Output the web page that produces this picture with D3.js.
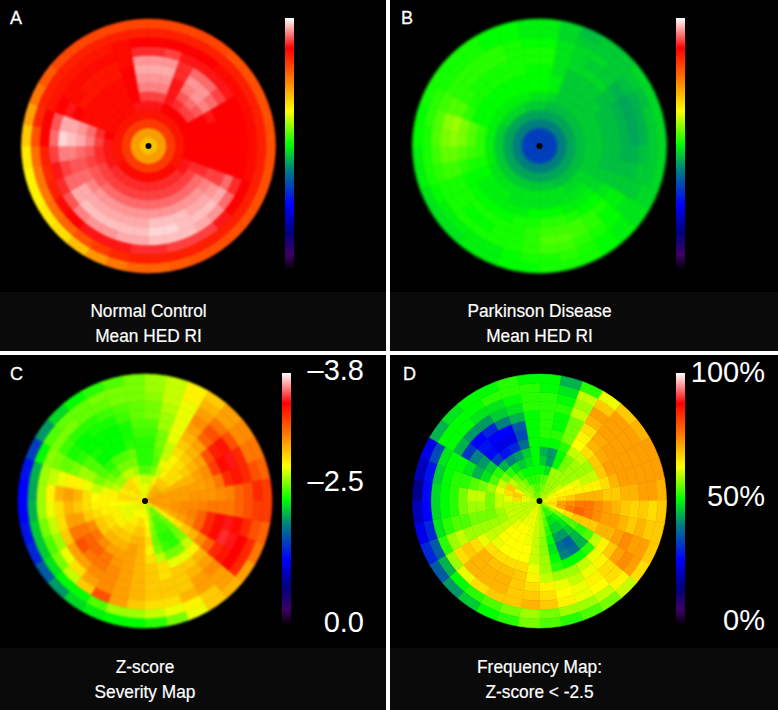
<!DOCTYPE html>
<html>
<head>
<meta charset="utf-8">
<script src="https://cdn.jsdelivr.net/npm/d3@7"></script>
<style>
  body { margin: 0; background: #000; }
  svg { display: block; }
  text { fill: #fff; font-family: "Liberation Sans", sans-serif; }
</style>
</head>
<body>
<div id="chart"></div>
<script>
// polar maps: one row per ring (centre to edge), 36 sectors clockwise from 12 o'clock, value = % of colour bar
var normalControl = [
  [68,68,68,68,68,68,68,68,68,68,68,68,68,68,68,68,68,68,68,68,68,68,68,68,68,68,68,68,68,68,68,68,68,68,68,68],
  [72,72,72,72,72,72,72,72,72,72,72,72,72,72,72,72,72,72,72,72,72,72,72,72,72,72,72,72,72,72,72,72,72,72,72,72],
  [82,82,82,82,82,82,82,82,82,82,82,82,82,82,82,82,82,82,82,82,82,82,82,82,82,82,82,82,82,82,82,82,82,82,82,82],
  [86,86,86,86,86,86,86,86,86,86,86,86,86,87,87,87,87,87,87,87,87,87,87,87,86,86,86,86,86,86,86,86,86,86,86,86],
  [89,89,88,88,88,88,88,88,88,88,88,89,89,90,90,90,90,90,90,90,90,90,90,90,89,89,89,89,88,87,87,87,87,87,89,89],
  [91,91,89,90,91,91,88,88,88,88,88,90,91,91,91,91,91,91,91,91,91,91,91,91,91,90,90,91,90,87,87,87,87,87,88,91],
  [94,94,89,92,93,92,88,88,88,88,88,90,93,93,93,93,93,93,93,93,93,93,93,92,92,91,92,94,93,87,87,87,87,87,88,94],
  [95,95,89,94,95,94,89,88,88,88,88,91,94,95,95,95,95,95,95,95,95,95,95,94,93,92,93,96,95,87,87,87,87,87,88,95],
  [96,96,90,95,95,93,88,88,88,88,88,91,95,96,96,97,97,97,96,96,96,96,96,96,93,92,94,97,96,88,86,86,86,86,88,96],
  [95,95,90,93,93,91,88,88,88,88,88,93,96,97,97,97,98,98,97,97,97,97,97,96,93,91,94,98,96,89,87,86,86,86,87,95],
  [90,91,89,89,89,89,88,88,88,88,88,90,93,95,96,97,97,97,96,96,95,95,94,92,90,89,91,93,92,88,87,87,87,87,87,90],
  [88,88,88,88,87,87,87,87,87,87,87,88,88,89,91,91,91,90,90,89,89,89,88,87,85,84,85,88,88,86,86,86,86,86,87,88],
  [85,85,85,85,85,85,85,85,85,85,85,85,85,85,85,85,85,85,85,84,82,80,78,77,76,76,77,80,84,85,85,85,85,85,85,85],
  [81,81,81,81,80,80,80,80,80,80,80,80,80,80,80,80,79,78,78,76,73,69,66,65,64,64,65,68,72,76,79,81,81,81,81,81]
];
var parkinson = [
  [33,33,33,33,33,33,33,33,33,33,33,33,33,33,33,33,33,33,33,33,33,33,33,33,33,33,33,33,33,33,33,33,33,33,33,33],
  [33,33,33,33,33,33,33,33,33,33,33,33,33,33,33,33,33,33,33,33,33,33,33,33,33,33,33,33,33,33,33,33,33,33,33,33],
  [40,40,40,40,40,40,40,40,40,40,40,40,40,40,40,40,40,40,40,40,40,40,40,40,40,40,40,40,40,40,40,40,40,40,40,40],
  [43,43,43,43,43,43,43,43,43,43,43,43,43,43,43,43,43,43,43,43,43,43,43,43,43,43,43,43,43,43,43,43,43,43,43,43],
  [46,45,45,45,45,45,45,45,45,45,45,45,45,45,45,45,46,46,46,46,46,46,46,46,46,46,46,46,46,46,47,47,47,47,46,46],
  [48,47,46,46,46,46,46,46,46,46,46,46,47,47,47,48,48,48,48,48,48,48,48,48,48,49,49,49,49,49,49,49,49,49,49,48],
  [50,49,46,46,46,46,46,46,46,46,46,46,47,48,48,48,48,48,48,48,48,49,49,49,50,51,52,52,52,50,50,50,50,50,50,50],
  [50,49,46,46,46,46,45,45,45,45,45,46,47,49,49,49,50,50,50,49,49,49,49,49,50,51,53,54,54,50,50,50,50,50,50,50],
  [50,48,46,46,46,45,45,45,45,45,45,46,48,50,50,51,52,52,51,51,50,50,50,50,50,52,54,56,56,52,51,51,51,51,51,50],
  [51,48,47,47,47,45,44,44,44,44,45,46,49,51,52,53,53,53,52,51,51,51,51,51,51,53,55,57,58,54,52,51,51,51,51,51],
  [51,48,47,46,46,44,43,43,43,44,45,46,49,50,52,53,54,54,52,51,51,50,50,51,51,53,55,56,57,54,52,52,52,52,51,51],
  [50,48,47,47,46,45,44,44,44,45,46,46,48,50,51,52,53,53,52,51,51,51,51,51,51,52,53,54,54,53,52,52,52,52,51,50],
  [49,47,46,46,46,46,45,46,46,46,46,47,48,49,50,51,52,51,51,50,49,49,49,49,50,51,51,51,52,52,51,51,51,50,50,49],
  [49,47,45,46,46,47,47,47,47,47,47,47,48,49,50,51,51,51,50,50,49,49,48,48,48,49,49,50,50,51,51,51,51,50,50,49]
];
var severity = [
  [64,64,66,68,70,70,70,72,72,72,72,70,66,62,60,58,60,60,62,62,62,64,64,64,64,64,64,66,66,64,64,64,64,64,62,62],
  [62,62,66,70,70,70,72,72,72,72,72,70,64,56,56,56,60,62,63,63,63,63,63,62,62,62,63,66,66,64,64,66,66,64,62,62],
  [60,60,64,68,68,68,70,72,72,72,72,70,64,56,54,54,58,63,66,66,64,64,62,62,62,62,63,66,66,64,66,66,66,64,62,60],
  [54,56,60,64,66,66,70,72,72,73,73,71,65,55,53,53,56,64,68,68,66,66,64,64,64,64,63,64,64,60,58,58,60,60,58,54],
  [52,54,62,64,66,66,70,72,72,74,74,72,66,55,52,52,55,66,70,70,68,68,68,66,66,64,64,64,62,58,56,54,56,56,56,52],
  [52,55,60,64,66,68,70,72,73,74,75,74,68,56,52,53,56,64,70,72,70,70,70,68,68,66,64,63,60,56,54,52,54,54,55,52],
  [52,56,60,66,68,70,72,72,73,75,78,78,70,60,56,56,60,66,70,72,72,72,74,76,74,68,66,66,62,58,54,50,50,50,52,52],
  [53,56,62,68,70,72,74,73,73,76,84,84,74,64,62,62,66,68,70,72,73,76,78,78,76,72,68,70,64,58,54,51,50,50,51,53],
  [54,58,62,70,72,80,82,76,74,76,87,87,78,70,68,68,66,68,70,72,74,76,76,80,76,72,70,72,64,56,52,50,50,50,51,54],
  [56,58,62,72,78,85,87,84,75,76,89,90,84,72,70,68,68,68,70,72,74,74,72,72,68,66,66,70,62,55,51,50,51,51,53,55],
  [56,59,62,74,80,86,89,86,78,78,87,89,86,74,72,68,68,68,70,72,74,72,66,62,58,60,62,64,60,56,53,52,52,53,54,55],
  [57,60,62,72,76,80,84,84,80,80,84,88,88,72,72,70,66,66,68,72,80,68,60,56,54,56,58,58,58,57,56,56,55,55,56,56],
  [58,60,64,70,72,74,76,80,84,82,80,84,84,72,68,64,62,60,58,58,54,50,50,48,46,46,44,43,44,50,54,55,55,56,56,56],
  [58,60,64,68,72,74,76,78,82,82,78,76,72,70,68,62,56,52,50,50,49,47,42,36,30,28,26,26,28,33,42,47,50,52,54,56]
];
var frequency = [
  [58,58,58,60,60,60,60,62,62,62,62,60,60,58,56,54,58,58,60,62,62,62,60,60,60,60,60,60,60,60,58,58,56,56,56,56],
  [56,56,58,58,58,60,62,63,64,66,66,62,58,54,52,52,56,58,60,62,62,62,60,60,60,60,60,62,62,60,60,58,58,56,54,54],
  [54,54,58,58,58,60,63,64,66,72,72,64,56,50,48,48,54,58,60,62,62,62,60,60,60,60,60,66,68,64,58,58,56,52,52,52],
  [50,48,58,58,58,58,63,64,68,74,76,66,54,48,46,46,52,58,60,62,63,63,62,60,60,60,60,62,66,68,60,56,52,50,50,50],
  [46,42,50,56,58,58,62,64,70,76,78,68,54,46,42,42,50,57,60,62,63,63,63,60,58,58,60,60,62,60,56,52,48,46,48,50],
  [44,42,50,56,58,58,60,64,70,76,76,68,52,44,36,38,48,57,60,63,63,63,63,60,58,56,56,56,58,54,52,44,40,42,46,50],
  [50,50,52,60,60,58,60,64,70,74,74,68,54,44,38,40,50,58,60,63,63,63,62,60,58,56,58,60,56,48,46,32,28,30,38,50],
  [52,52,56,63,66,68,68,66,68,72,72,70,60,52,50,50,52,58,62,66,66,66,66,62,58,56,58,60,54,44,42,27,24,24,34,50],
  [52,50,56,64,70,71,72,70,68,70,72,70,64,62,60,58,58,60,64,68,69,69,70,66,58,54,56,56,52,48,40,28,26,26,36,50],
  [52,50,56,66,71,72,72,72,70,68,70,72,68,64,62,60,62,64,66,68,70,70,70,68,60,54,52,52,52,50,32,26,30,40,44,50],
  [52,52,60,70,72,72,72,72,70,67,68,74,72,66,64,62,63,66,68,68,70,70,70,66,58,52,50,50,50,50,44,42,42,46,48,52],
  [52,50,58,72,72,72,72,72,72,68,70,72,74,66,63,62,64,68,70,68,68,66,62,58,52,48,47,47,46,48,50,50,48,48,50,52],
  [50,48,60,68,72,72,72,72,72,66,68,72,72,64,60,58,58,56,58,56,54,52,50,44,36,30,26,27,28,34,50,50,50,52,52,52],
  [50,44,52,62,68,70,72,72,70,68,68,68,66,60,56,54,52,54,56,52,50,46,42,36,30,24,20,16,20,24,44,48,50,50,52,50]
];

var panelLetters = ["A", "B", "C", "D"];
var captions = [
  ["Normal Control", "Mean HED RI"],
  ["Parkinson Disease", "Mean HED RI"],
  ["Z-score", "Severity Map"],
  ["Frequency Map:", "Z-score < -2.5"]
];
var severityTicks = [101, 57, 1];
var severityLabels = ["\u20133.8", "\u20132.5", "0.0"];
var frequencyTicks = [100.5, 51, 2];
var frequencyLabels = ["100%", "50%", "0%"];

var colorStops = [0, 6, 15, 26, 40, 50, 63, 75, 88, 100];
var colorValues = ["#000000", "#3c0064", "#000080", "#0000ff", "#008080", "#00ff00", "#ffff00", "#ff8000", "#ff0000", "#ffffff"];

var width = 778, height = 710;
var color = d3.scaleLinear().domain(colorStops).range(colorValues);

var svg = d3.select("#chart").append("svg")
    .attr("width", width)
    .attr("height", height);

var defs = svg.append("defs");
var grad = defs.append("linearGradient")
    .attr("id", "bar")
    .attr("x1", 0).attr("x2", 0).attr("y1", 1).attr("y2", 0);
colorStops.forEach(function(s, i) {
  grad.append("stop").attr("offset", s + "%").attr("stop-color", colorValues[i]);
});

// slightly lighter caption strips
[[0, 292, 386, 59], [390, 292, 388, 59], [0, 648, 386, 62], [390, 648, 388, 62]].forEach(function(b) {
  svg.append("rect").attr("x", b[0]).attr("y", b[1]).attr("width", b[2]).attr("height", b[3]).attr("fill", "#0a0a0a");
});

function draw_panel(i, data, cx, cy, barX, blur, ticks, labels, labelX) {
  var g = svg.append("g");
  var rings = d3.range(data.length);
  var sectors = d3.range(data[0].length);
  var r = d3.scaleBand().domain(rings).range([0, 127]);
  var a = d3.scaleBand().domain(sectors).range([0, 2 * Math.PI]);
  var arc = d3.arc();

  var map = g.append("g")
      .attr("transform", "translate(" + cx + "," + cy + ")")
      .style("filter", "blur(" + blur + "px)");

  data.forEach(function(row, ri) {
    map.selectAll(".r" + ri)
      .data(row)
      .enter().append("path")
        .attr("d", function(d, k) {
          return arc({
            innerRadius: r(ri),
            outerRadius: r(ri) + r.bandwidth(),
            startAngle: a(k),
            endAngle: a(k) + a.bandwidth()
          });
        })
        .attr("fill", function(d) { return color(d); })
        .attr("stroke", function(d) { return color(d); })
        .attr("stroke-width", 0.6);
  });

  // centre dot sits above the blur
  g.append("circle")
      .attr("cx", cx).attr("cy", cy)
      .attr("r", 3).attr("fill", "#000");

  var barTop = cy - 128, barH = 252;
  var y = d3.scaleLinear().domain([0, 100]).range([barTop + barH, barTop]);

  g.append("rect")
      .attr("x", barX)
      .attr("y", y(100))
      .attr("width", 9)
      .attr("height", barH)
      .attr("fill", "url(#bar)");

  if (ticks) {
    g.selectAll(".tick")
      .data(ticks)
      .enter().append("text")
        .attr("x", labelX)
        .attr("y", function(d) { return y(d) + 10; })
        .attr("text-anchor", "end")
        .style("font-size", "29px")
        .text(function(d, t) { return labels[t]; });
  }

  g.append("text")
      .attr("x", i == 0 || i == 2 ? 10 : (i == 1 ? 401 : 403))
      .attr("y", (i < 2 ? 24 : 380))
      .attr("stroke", "#fff")
      .attr("stroke-width", 0.3)
      .style("font-size", "18px")
      .text(panelLetters[i]);

  var capY = i < 2 ? 316.5 : 672.5;
  captions[i].forEach(function(line, l) {
    g.append("text")
        .attr("transform", "translate(" + cx + "," + (capY + l * 25) + ") scale(0.91,1)")
        .attr("text-anchor", "middle")
        .attr("stroke", "#fff")
        .attr("stroke-width", 0.2)
        .style("font-size", "19px")
        .text(line);
  });
}

draw_panel(0, normalControl, 148.5, 146, 285, 1);
draw_panel(1, parkinson, 539.5, 146, 676, 1.6);
draw_panel(2, severity, 145, 501, 282, 0.8, severityTicks, severityLabels, 364);
draw_panel(3, frequency, 539.5, 501, 676, 0.7, frequencyTicks, frequencyLabels, 765);

// white dividers
svg.append("rect").attr("x", 386).attr("y", 0).attr("width", 4).attr("height", height).attr("fill", "#fff");
svg.append("rect").attr("x", 0).attr("y", 351).attr("width", width).attr("height", 4).attr("fill", "#fff");
</script>
</body>
</html>
